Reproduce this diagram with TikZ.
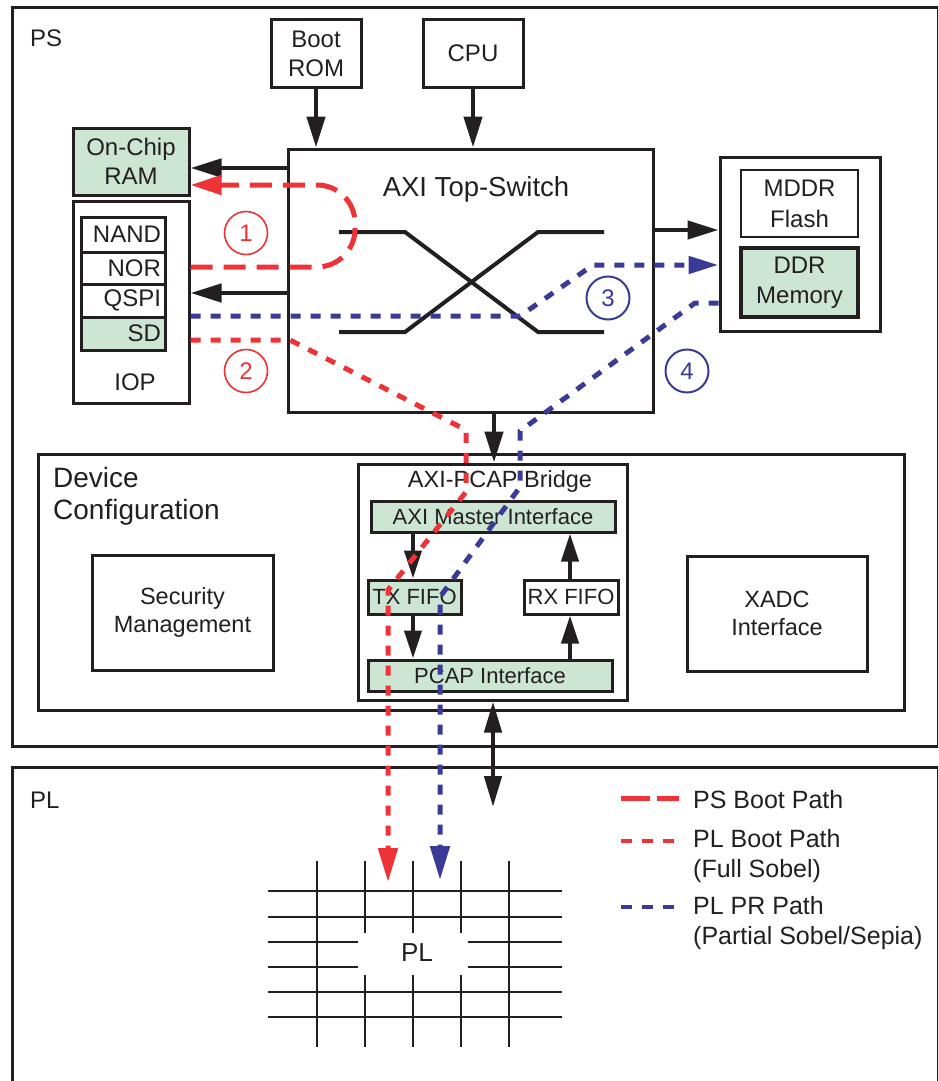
\documentclass[tikz,border=0pt]{standalone}
\usepackage{fontspec}
\setmainfont{Liberation Sans}
\usetikzlibrary{arrows.meta}
\definecolor{ink}{HTML}{231F20}
\definecolor{rd}{HTML}{EE3338}
\definecolor{bl}{HTML}{3B3B97}
\definecolor{gr}{HTML}{CDE6D4}
\newcommand\fsz[2]{\fontsize{#1}{#2}\selectfont}
\tikzset{
  box/.style={draw=ink, line width=3pt, inner sep=0pt, align=center, text=ink, font=\fsz{24}{29}},
  gbox/.style={box, fill=gr},
  mem/.style={box, minimum width=84pt, text width=76pt, align=right, inner xsep=4pt},
  txt/.style={inner sep=0pt, text=ink, font=\fsz{24}{29}, align=center},
  arr/.style={draw=ink, line width=4.5pt, -{Triangle[length=31pt,width=18pt]}},
  sarr/.style={draw=ink, line width=4pt, -{Triangle[length=28pt,width=17pt]}},
  bigred/.style={draw=rd, line width=5pt, dash pattern=on 22pt off 11pt},
  smallred/.style={draw=rd, line width=5pt, dash pattern=on 10pt off 10pt},
  smallblue/.style={draw=bl, line width=5pt, dash pattern=on 10pt off 10pt},
  num/.style={circle, draw, line width=1.6pt, minimum size=43pt, inner sep=0pt, font=\fsz{24}{24}},
  gridline/.style={draw=ink, line width=2.3pt},
  switchline/.style={draw=ink, line width=4pt},
  legtxt/.style={txt, anchor=west, align=left, font=\fsz{25}{30}}
}
\begin{document}
\begin{tikzpicture}[x=1pt, y=-1pt]
\useasboundingbox (0,0) rectangle (938,1081);
\clip (0,0) rectangle (938,1081);

% outer regions
\node[box, minimum width=926.5pt, minimum height=738.5pt] (ps) at (475.25,377.25) {};
\node[box, minimum width=926.5pt, minimum height=333pt] (pl) at (475.25,933.5) {};
\node[txt, anchor=west] (pslbl) at (30,38) {PS};
\node[txt, anchor=west] (pllbl) at (30,800) {PL};

% top blocks
\node[box, minimum width=90pt, minimum height=67pt] (boot) at (316,53.5) {Boot\\ROM};
\node[box, minimum width=100pt, minimum height=67pt] (cpu) at (473,53.5) {CPU};
\node[box, minimum width=365pt, minimum height=263pt] (axi) at (470.5,280.5) {};
\node[txt, font=\fsz{27.5}{33}] (axititle) at (476,189) {AXI Top-Switch};
\node[gbox, minimum width=116pt, minimum height=67pt] (ocram) at (131,161.5) {On-Chip\\RAM};
\node[box, minimum width=116pt, minimum height=202pt] (iop) at (131,302) {};
\node[txt] (ioplbl) at (135,382) {IOP};
\node[mem, minimum height=35pt] (nand) at (123,234.5) {NAND};
\node[mem, minimum height=32pt] (nor) at (123,268) {NOR};
\node[mem, minimum height=33pt] (qspi) at (123,300.5) {QSPI};
\node[mem, fill=gr, minimum height=33pt] (sd) at (123,333.5) {SD};

\node[box, minimum width=160pt, minimum height=174pt] (ddrbox) at (800,244) {};
\node[box, line width=1.5pt, font=\fsz{24}{31}, minimum width=117pt, minimum height=67pt] (mddr) at (799.5,203.5) {MDDR\\Flash};
\node[gbox, line width=3.5pt, font=\fsz{24}{30}, minimum width=117pt, minimum height=69pt] (ddr) at (799.5,282.5) {DDR\\Memory};

% device configuration
\node[box, minimum width=866pt, minimum height=256pt] (dev) at (471,582) {};
\node[txt, anchor=west, align=left, font=\fsz{28}{32}] (devlbl) at (53,496) {Device\\Configuration};
\node[box, font=\fsz{23.5}{28}, minimum width=181pt, minimum height=115pt] (sec) at (182.5,612.5) {Security\\Management};
\node[box, font=\fsz{23.5}{28}, minimum width=180pt, minimum height=115pt] (xadc) at (777,613.5) {XADC\\Interface};
\node[box, minimum width=269pt, minimum height=236pt] (bridge) at (492.5,582) {};
\node[txt, font=\fsz{23.5}{28}] (brlbl) at (500,481) {AXI-PCAP Bridge};
\node[gbox, font=\fsz{22}{26}, minimum width=244pt, minimum height=31pt] (axim) at (493,516.5) {AXI Master Interface};
\node[gbox, font=\fsz{22}{26}, minimum width=93pt, minimum height=34pt] (tx) at (414.5,597) {TX FIFO};
\node[box, font=\fsz{22}{26}, minimum width=94pt, minimum height=34pt] (rx) at (571,597) {RX FIFO};
\node[gbox, font=\fsz{22}{26}, minimum width=244pt, minimum height=31pt] (pcap) at (490,675.5) {PCAP Interface};

% switch symbol
\draw[switchline] (339,232) -- (405,232) -- (538,332) -- (604,332);
\draw[switchline] (339,332) -- (405,332) -- (538,232) -- (604,232);

% PL grid
\foreach \y in {891,917,992,1017} \draw[gridline] (268,\y) -- (562,\y);
\foreach \y in {942,967} {\draw[gridline] (268,\y) -- (358,\y); \draw[gridline] (468,\y) -- (562,\y);}
\foreach \x in {317,509} \draw[gridline] (\x,861) -- (\x,1047);
\foreach \x in {365,413,461} {\draw[gridline] (\x,861) -- (\x,933); \draw[gridline] (\x,975) -- (\x,1047);}
\node[txt, font=\fsz{26}{30}] (pltext) at (417,953) {PL};

% black connectors
\draw[arr] (boot.south) -- (boot.south |- axi.north);
\draw[arr] (cpu.south) -- (cpu.south |- axi.north);
\draw[arr] (axi.west |- 0,168) -- (ocram.east |- 0,168);
\draw[arr] (axi.west |- 0,293) -- (iop.east |- 0,293);
\draw[arr] (axi.east |- 0,230) -- (ddrbox.west |- 0,230);
\draw[arr] (axi.south -| 494,0) -- (bridge.north -| 494,0);
\draw[sarr] (axim.south -| 413,0) -- (tx.north -| 413,0);
\draw[sarr] (tx.south -| 413,0) -- (pcap.north -| 413,0);
\draw[sarr] (pcap.north -| 570,0) -- (rx.south -| 570,0);
\draw[sarr] (rx.north -| 570,0) -- (axim.south -| 570,0);
\coordinate (plport) at (493,807);
\draw[draw=ink, line width=4.5pt, {Triangle[length=31pt,width=17pt]}-{Triangle[length=31pt,width=17pt]}] (bridge.south -| plport) -- (plport);

% paths
\draw[bigred, rounded corners=38pt, -{Triangle[length=31pt,width=19pt]}] (iop.east |- 0,267) -- (355,267) -- (355,185) -- (ocram.east |- 0,185);
\coordinate (redend) at (388,882);
\draw[smallred, -{Triangle[length=34pt,width=19pt]}] (iop.east |- 0,340) -- (290,340) -- (466,430) -- (466,492) -- (388,590) -- (redend);
\draw[smallblue, -{Triangle[length=30pt,width=17pt]}] (iop.east |- 0,316) -- (520,316) -- (593,265) -- (ddrbox.west |- 0,265);
\coordinate (blueend) at (440,880);
\draw[smallblue, -{Triangle[length=34pt,width=19pt]}] (ddrbox.west |- 0,303) -- (695,303) -- (520,431) -- (520,487) -- (440,597) -- (blueend);

% numbers
\node[num, draw=rd, text=rd] (n1) at (246,233) {1};
\node[num, draw=rd, text=rd] (n2) at (246,371) {2};
\node[num, draw=bl, text=bl, line width=2pt] (n3) at (608,298) {3};
\node[num, draw=bl, text=bl, line width=2pt] (n4) at (687,371) {4};

% legend
\coordinate (l1a) at (621,798); \coordinate (l1b) at (679,798);
\coordinate (l2a) at (621,841); \coordinate (l2b) at (675,841);
\coordinate (l3a) at (621,907); \coordinate (l3b) at (675,907);
\draw[bigred, dash pattern=on 29pt off 7pt] (l1a) -- (l1b);
\draw[smallred, line width=4.5pt, dash pattern=on 11pt off 10pt] (l2a) -- (l2b);
\draw[smallblue, line width=4.5pt, dash pattern=on 11pt off 10pt] (l3a) -- (l3b);
\node[legtxt] (leg1) at (693,800) {PS Boot Path};
\node[legtxt] (leg2) at (693,856) {PL Boot Path\\(Full Sobel)};
\node[legtxt] (leg3) at (693,923) {PL PR Path\\(Partial Sobel/Sepia)};
\end{tikzpicture}
\end{document}
